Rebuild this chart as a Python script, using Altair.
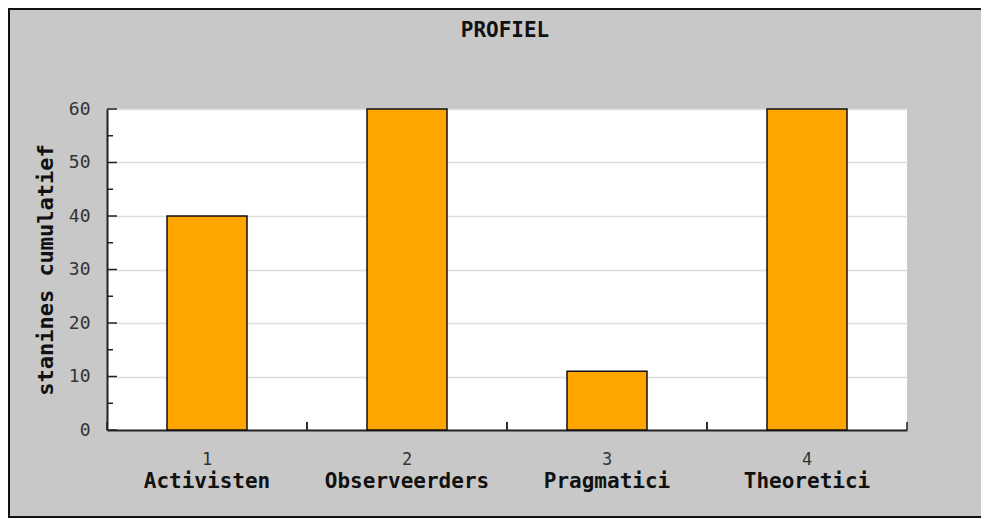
import altair as alt
import pandas as pd

title_text = ["PROFIEL"]
y_title = "stanines cumulatief"
numbers = ["1", "2", "3", "4"]
names = ["Activisten", "Observeerders", "Pragmatici", "Theoretici"]
values = [40, 60, 11, 60]
major_ticks = [0, 10, 20, 30, 40, 50, 60]
minor_ticks = [5, 15, 25, 35, 45, 55]

W, H = 800, 321
FONT = "DejaVu Sans Mono"

df = pd.DataFrame({"num": numbers, "name": names, "value": values})
df_major = pd.DataFrame({"value": major_ticks})
df_minor = pd.DataFrame({"value": minor_ticks})
df_title = pd.DataFrame({"t": title_text})

xscale = alt.Scale(domain=numbers, paddingInner=0.6, paddingOuter=0.3)
yscale = alt.Scale(domain=[0, 60], nice=False, zero=True)

x_axis = alt.Axis(title=None, labelAngle=0, labelFont=FONT, labelFontSize=17,
                  labelColor="#333333", tickSize=0, labelPadding=21,
                  domainColor="#222222", domainWidth=2, grid=False)
y_axis = alt.Axis(values=major_ticks, tickSize=0, labelPadding=17, grid=True,
                  gridColor="#dedede", gridWidth=1.5, domainColor="#222222",
                  domainWidth=2, labelFont=FONT, labelFontSize=18,
                  labelColor="#333333", title=y_title, titleFont=FONT,
                  titleFontSize=22, titleFontWeight="bold", titleColor="#111111",
                  titleX=-62, titleY=H / 2, titleAngle=270, titleAlign="center",
                  titleBaseline="middle")

X = alt.X("num:N", scale=xscale, sort=numbers, axis=x_axis)
Y = alt.Y("value:Q", scale=yscale, axis=y_axis)

bars = alt.Chart(df).mark_bar(color="#ffa500", stroke="#111111", strokeWidth=1.5).encode(
    x=X, y=Y,
)

major = alt.Chart(df_major).mark_rule(color="#222222", strokeWidth=1.5).encode(
    y=Y, x=alt.value(0), x2=alt.value(10),
)
minor = alt.Chart(df_minor).mark_rule(color="#222222", strokeWidth=1.5).encode(
    y=Y, x=alt.value(0), x2=alt.value(6),
)

xticks_left = alt.Chart(df).mark_rule(color="#222222", strokeWidth=1.5, xOffset=-100).encode(
    x=X, y=alt.value(H - 8), y2=alt.value(H),
)
xticks_right = alt.Chart(df).mark_rule(color="#222222", strokeWidth=1.5, xOffset=100).encode(
    x=X, y=alt.value(H - 8), y2=alt.value(H),
)

name_text = alt.Chart(df).mark_text(font=FONT, fontSize=21, fontWeight="bold",
                                    baseline="middle", color="#111111").encode(
    x=X, y=alt.value(H + 52), text="name:N",
)

title = alt.Chart(df_title).mark_text(font=FONT, fontSize=21, fontWeight="bold",
                                      baseline="middle", color="#111111").encode(
    x=alt.value(W / 2 - 2), y=alt.value(-78), text="t:N",
)

one = pd.DataFrame({"a": [0]})
frame_top = alt.Chart(one).mark_rule(color="#111111", strokeWidth=2).encode(
    x=alt.value(-99), x2=alt.value(W + 74), y=alt.value(-100),
)
frame_left = alt.Chart(one).mark_rule(color="#111111", strokeWidth=2).encode(
    x=alt.value(-98), y=alt.value(-101), y2=alt.value(H + 88),
)
frame_bottom = alt.Chart(one).mark_rule(color="#111111", strokeWidth=2).encode(
    x=alt.value(-99), x2=alt.value(W + 74), y=alt.value(H + 87),
)

chart = alt.layer(bars, major, minor, xticks_left, xticks_right, name_text, title,
                  frame_top, frame_left, frame_bottom).properties(
    width=W, height=H,
    autosize=alt.AutoSizeParams(type="none"),
    padding={"left": 99, "top": 101, "right": 74, "bottom": 88},
    background="#c8c8c8",
).configure_view(stroke=None, fill="white")

chart.save("out.html", embed_options={"renderer": "svg", "actions": False})
